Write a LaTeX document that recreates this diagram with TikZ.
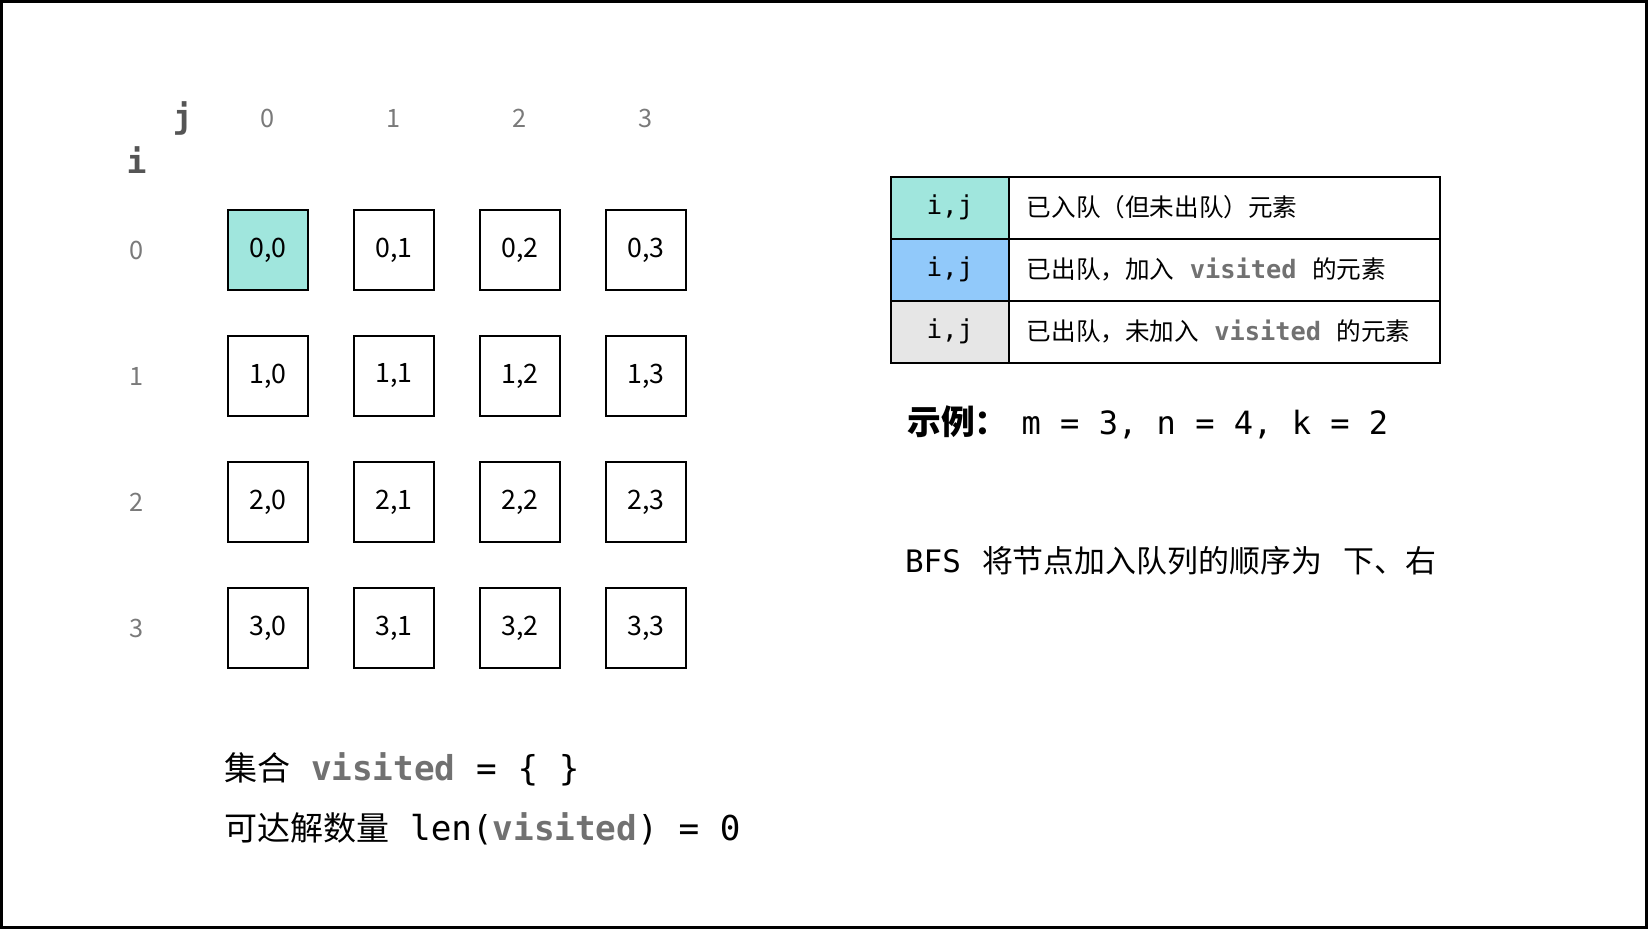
\documentclass[tikz,border=0pt]{standalone}
\usepackage{fontspec}
\newfontfamily\cjk{Noto Sans CJK SC}
\newfontfamily\mono{DejaVu Sans Mono}
\definecolor{queued}{HTML}{A0E6DD}
\definecolor{popped}{HTML}{91C9FA}
\definecolor{skipped}{HTML}{E6E6E6}
\definecolor{idxgray}{HTML}{7A7A7A}
\definecolor{axisgray}{HTML}{555555}
\definecolor{vgray}{HTML}{717171}
\newcommand{\vis}{{\mono\bfseries\color{vgray}visited}}

\begin{document}
\begin{tikzpicture}[
    cell/.style={draw, line width=1.3pt, minimum size=2cm, inner sep=0pt, font=\cjk\fontsize{19}{19}\selectfont},
    idx/.style={text=idxgray, font=\cjk\fontsize{18}{18}\selectfont},
    axis/.style={text=axisgray, font=\mono\bfseries\fontsize{23.5}{23.5}\selectfont},
    key/.style={draw, line width=1.3pt, minimum width=2.94cm, minimum height=1.55cm, inner sep=0pt, font=\mono\fontsize{18.5}{18.5}\selectfont},
    keytext/.style={draw, line width=1.3pt, minimum width=10.78cm, minimum height=1.55cm, inner xsep=0.45cm, inner ysep=0pt, text width=9.88cm, align=left, font=\cjk\fontsize{17.5}{17.5}\selectfont},
    note/.style={anchor=west, inner sep=0pt}
]
            \useasboundingbox (0,0) rectangle (41.2,-23.225);
            \draw[line width=0.075cm] (0.0375,-0.0375) rectangle (41.1625,-23.1875);

            % Axis labels
            \node[axis] (lblj) at (4.57,-2.95) {j};
            \node[axis] (lbli) at (3.415,-4.0) {i};
            \node[idx] (col0) at (6.7,-2.97) {0};
            \node[idx] (col1) at (9.85,-2.97) {1};
            \node[idx] (col2) at (13.0,-2.97) {2};
            \node[idx] (col3) at (16.15,-2.97) {3};
            \node[idx] (row0) at (3.415,-6.25) {0};
            \node[idx] (row1) at (3.415,-9.4) {1};
            \node[idx] (row2) at (3.415,-12.55) {2};
            \node[idx] (row3) at (3.415,-15.7) {3};

            % Grid
            \node[cell, fill=queued] (c00) at (6.7,-6.25) {0,0};
            \node[cell] (c01) at (9.85,-6.25) {0,1};
            \node[cell] (c02) at (13.0,-6.25) {0,2};
            \node[cell] (c03) at (16.15,-6.25) {0,3};
            \node[cell] (c10) at (6.7,-9.4) {1,0};
            \node[cell] (c11) at (9.85,-9.4) {1,1};
            \node[cell] (c12) at (13.0,-9.4) {1,2};
            \node[cell] (c13) at (16.15,-9.4) {1,3};
            \node[cell] (c20) at (6.7,-12.55) {2,0};
            \node[cell] (c21) at (9.85,-12.55) {2,1};
            \node[cell] (c22) at (13.0,-12.55) {2,2};
            \node[cell] (c23) at (16.15,-12.55) {2,3};
            \node[cell] (c30) at (6.7,-15.7) {3,0};
            \node[cell] (c31) at (9.85,-15.7) {3,1};
            \node[cell] (c32) at (13.0,-15.7) {3,2};
            \node[cell] (c33) at (16.15,-15.7) {3,3};

            % Legend
            \node[key, fill=queued] (key1) at (23.75,-5.19) {i,j};
            \node[key, fill=popped] (key2) at (23.75,-6.74) {i,j};
            \node[key, fill=skipped] (key3) at (23.75,-8.29) {i,j};
            \node[keytext] (txt1) at (30.61,-5.19) {已入队（但未出队）元素};
            \node[keytext] (txt2) at (30.61,-6.74) {已出队，加入\hspace{11pt}{\fontsize{18}{18}\selectfont\vis}\hspace{11pt}的元素};
            \node[keytext] (txt3) at (30.61,-8.29) {已出队，未加入\hspace{11pt}{\fontsize{18}{18}\selectfont\vis}\hspace{11pt}的元素};

            % Notes
            \node[note, font=\mono\fontsize{22.8}{22.8}\selectfont] (example) at (22.68,-10.56) {{\cjk\bfseries\fontsize{24}{24}\selectfont 示例：}\hspace{9.2pt}m = 3, n = 4, k = 2};
            \node[note, font=\mono\fontsize{22}{22}\selectfont] (order) at (22.62,-14.03) {BFS\hspace{15pt}{\cjk\fontsize{22}{22}\selectfont 将节点加入队列的顺序为\hspace{15pt}下、右}};
            \node[note, font=\mono\fontsize{24.4}{24.4}\selectfont] (setline) at (5.6,-19.23) {{\cjk\fontsize{23.5}{23.5}\selectfont 集合} \vis{} = \{ \}};
            \node[note, font=\mono\fontsize{24.4}{24.4}\selectfont] (countline) at (5.6,-20.73) {{\cjk\fontsize{23.5}{23.5}\selectfont 可达解数量} len(\vis) = 0};
        \end{tikzpicture}
\end{document}
